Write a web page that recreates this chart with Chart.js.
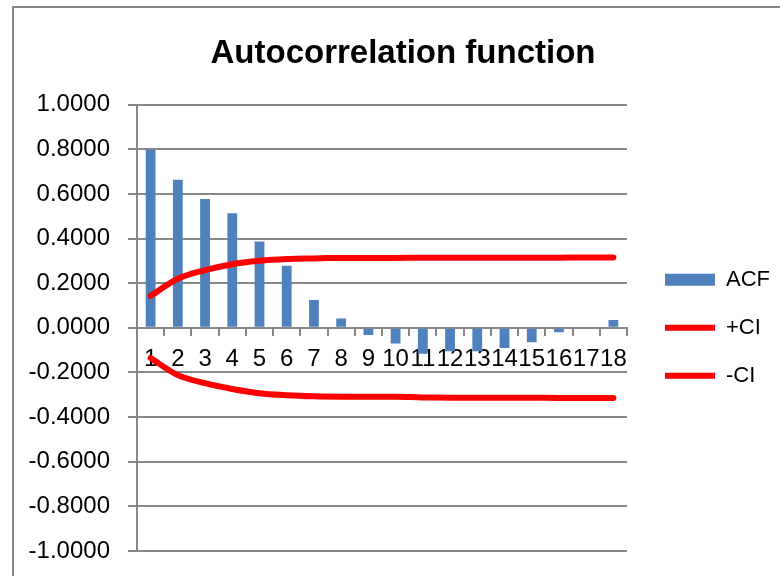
<!DOCTYPE html>
<html>
<head>
<meta charset="utf-8">
<script src="https://cdn.jsdelivr.net/npm/chart.js@4.4.1/dist/chart.umd.min.js"></script>
<style>
  body { margin: 0; background: #fff; }
  #wrap { width: 780px; height: 576px; }
</style>
</head>
<body>
<div id="wrap"><canvas id="myChart" width="780" height="576"></canvas></div>
<script>
const lags = ['1', '2', '3', '4', '5', '6', '7', '8', '9', '10', '11', '12', '13', '14', '15', '16', '17', '18'];
const acf = [0.798, 0.663, 0.577, 0.513, 0.387, 0.278, 0.124, 0.042, -0.032, -0.070, -0.116, -0.105, -0.105, -0.090, -0.065, -0.020, 0.000, 0.035];
const ciPlus = [0.143, 0.220, 0.258, 0.285, 0.300, 0.308, 0.311, 0.313, 0.313, 0.313, 0.314, 0.314, 0.314, 0.314, 0.314, 0.314, 0.315, 0.315];
const ciMinus = [-0.135, -0.212, -0.248, -0.274, -0.293, -0.302, -0.307, -0.309, -0.309, -0.309, -0.312, -0.313, -0.313, -0.313, -0.313, -0.314, -0.314, -0.314];

const gridGray = '#888888';
const fontFam = '"Liberation Sans", Arial, sans-serif';

// marco del grafico estilo Excel
const framePlugin = {
    id: 'frame',
    beforeDraw(chart) {
        const ctx = chart.ctx;
        ctx.save();
        ctx.strokeStyle = gridGray;
        ctx.lineWidth = 2;
        ctx.strokeRect(13, 7, 800, 600);
        ctx.restore();
    }
};

const ctx = document.getElementById('myChart').getContext('2d');
const myChart = new Chart(ctx, {
    type: 'bar',
    data: {
        labels: lags,
        datasets: [
            {
                label: 'ACF',
                data: acf,
                backgroundColor: '#4F81BD',
                borderWidth: 0,
                pointStyle: 'rect',
                categoryPercentage: 1,
                barPercentage: 0.36,
                order: 2
            },
            {
                type: 'line',
                label: '+CI',
                data: ciPlus,
                borderColor: '#FF0000',
                backgroundColor: '#FF0000',
                borderWidth: 6,
                borderCapStyle: 'round',
                pointRadius: 0,
                pointStyle: 'line',
                tension: 0.35,
                fill: false,
                order: 1
            },
            {
                type: 'line',
                label: '-CI',
                data: ciMinus,
                borderColor: '#FF0000',
                backgroundColor: '#FF0000',
                borderWidth: 6,
                borderCapStyle: 'round',
                pointRadius: 0,
                pointStyle: 'line',
                tension: 0.35,
                fill: false,
                order: 1
            }
        ]
    },
    options: {
        responsive: false,
        animation: false,
        layout: {
            padding: { left: 26, right: 0, top: 20, bottom: 25 }
        },
        plugins: {
            title: {
                display: true,
                text: 'Autocorrelation function',
                color: '#000',
                font: { family: fontFam, size: 33, weight: 'bold' },
                padding: { top: 14, bottom: 31 }
            },
            legend: {
                position: 'right',
                fullSize: false,
                maxWidth: 170,
                labels: {
                    color: '#000',
                    font: { family: fontFam, size: 22 },
                    usePointStyle: true,
                    pointStyleWidth: 50,
                    boxHeight: 12,
                    padding: 26,
                    sort: (a, b) => a.datasetIndex - b.datasetIndex
                }
            },
            tooltip: { enabled: false }
        },
        scales: {
            x: {
                type: 'category',
                position: { y: 0 },
                offset: true,
                grid: {
                    offset: true,
                    drawOnChartArea: false,
                    drawTicks: true,
                    tickLength: 7,
                    color: gridGray,
                    lineWidth: 2
                },
                border: { color: gridGray, width: 2 },
                ticks: {
                    autoSkip: false,
                    maxRotation: 0,
                    minRotation: 0,
                    padding: 10,
                    color: '#000',
                    font: { family: fontFam, size: 24 }
                }
            },
            y: {
                min: -1,
                max: 1,
                afterFit(scale) {
                    scale.width = 111;
                    scale.paddingTop = 0;
                    scale.paddingBottom = 0;
                },
                grid: {
                    color: gridGray,
                    lineWidth: 2,
                    tickLength: 9
                },
                border: { color: gridGray, width: 2 },
                ticks: {
                    stepSize: 0.2,
                    padding: 18,
                    color: '#000',
                    font: { family: fontFam, size: 24 },
                    callback: v => Math.abs(v) < 1e-9 ? '0.0000' : Number(v).toFixed(4)
                }
            },
            // eje vacio a la derecha, solo deja hueco antes de la leyenda
            gap: {
                type: 'linear',
                position: 'right',
                display: true,
                afterFit(scale) {
                    scale.width = 12;
                },
                grid: { display: false },
                border: { display: false },
                ticks: { display: false }
            }
        }
    },
    plugins: [framePlugin]
});
</script>
</body>
</html>
